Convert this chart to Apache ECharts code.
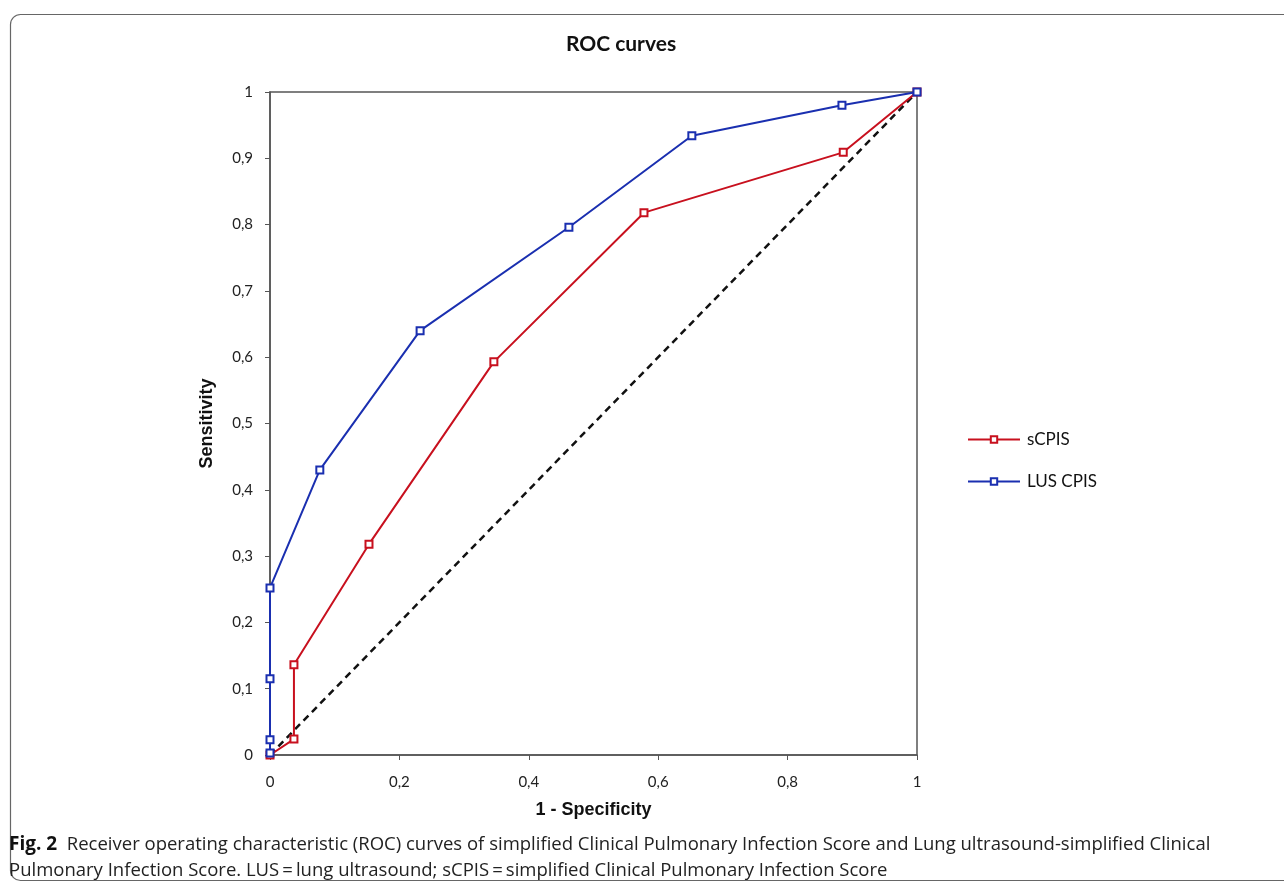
<!DOCTYPE html>
<html>
<head>
<meta charset="utf-8">
<script src="https://cdn.jsdelivr.net/npm/echarts@6/dist/echarts.min.js"></script>
<style>
  html, body { margin: 0; padding: 0; background: #fff; }
  #chart { width: 1284px; height: 889px; }
</style>
</head>
<body>
<div id="chart"></div>
<script>
// ROC points: [1 - specificity, sensitivity]
const sCpisFpr = [0, 0.037, 0.037, 0.153, 0.346, 0.578, 0.886, 1];
const sCpisTpr = [0, 0.024, 0.136, 0.318, 0.593, 0.818, 0.909, 1];
const lusFpr = [0, 0, 0, 0, 0.077, 0.232, 0.462, 0.652, 0.884, 1];
const lusTpr = [0.003, 0.023, 0.115, 0.252, 0.43, 0.64, 0.796, 0.934, 0.98, 1];
const refLine = [[0, 0], [1, 1]];

const zip = (xs, ys) => xs.map((x, i) => [x, ys[i]]);
const comma = (v) => String(+v.toFixed(1)).replace(".", ",");

const chart = echarts.init(document.getElementById("chart"), null, { renderer: "canvas" });

const axisColor = "#555";
const axisLabel = { color: "#222", fontFamily: "Lato", fontSize: 15, formatter: comma };
const markerStyle = (c) => ({ color: "#fff", borderColor: c, borderWidth: 2 });
const nameStyle = { fontFamily: "Liberation Sans", fontSize: 18, fontWeight: "bold", color: "#111" };

// second pair of axes only draws the inner half of the crossing ticks
const innerX = {
  type: "value", min: 0, max: 1, interval: 0.2,
  axisLine: { show: false }, axisLabel: { show: false }, splitLine: { show: false },
  axisTick: { show: true, inside: true, length: 5, lineStyle: { color: axisColor } }
};
const innerY = { ...innerX, interval: 0.1 };

chart.setOption({
  animation: false,
  backgroundColor: "#fff",
  title: {
    text: "ROC curves",
    left: 616, top: 29, textAlign: "center",
    textStyle: { fontFamily: "Lato", fontSize: 21, fontWeight: "bold", color: "#111" }
  },
  grid: {
    left: 270, right: 367, top: 92, bottom: 134,
    show: true, borderColor: axisColor, borderWidth: 1.5
  },
  xAxis: [{
    type: "value", min: 0, max: 1, interval: 0.2,
    name: "1 - Specificity", nameLocation: "middle", nameGap: 46, nameTextStyle: nameStyle,
    axisLine: { show: true, lineStyle: { color: axisColor, width: 1.5 } },
    axisTick: { show: true, length: 5, lineStyle: { color: axisColor } },
    axisLabel: { ...axisLabel, margin: 20 },
    splitLine: { show: false }
  }, innerX],
  yAxis: [{
    type: "value", min: 0, max: 1, interval: 0.1,
    name: "Sensitivity", nameLocation: "middle", nameGap: 54, nameRotate: 90, nameTextStyle: nameStyle,
    axisLine: { show: true, lineStyle: { color: axisColor, width: 1.5 } },
    axisTick: { show: true, length: 5, lineStyle: { color: axisColor } },
    axisLabel: { ...axisLabel, margin: 17 },
    splitLine: { show: false }
  }, innerY],
  legend: {
    orient: "vertical", left: 962, top: 426, itemGap: 25,
    itemWidth: 52, itemHeight: 8,
    textStyle: { fontFamily: "Lato", fontSize: 17, color: "#111", padding: [0, 0, 0, 2] },
    data: ["sCPIS", "LUS CPIS"]
  },
  series: [
    {
      name: "reference", type: "line", data: refLine, symbol: "none",
      lineStyle: { color: "#111", width: 2.5, type: [7, 5] }, z: 1
    },
    {
      name: "sCPIS", type: "line", data: zip(sCpisFpr, sCpisTpr),
      symbol: "rect", symbolSize: 7, color: "#c8101e",
      lineStyle: { color: "#c8101e", width: 2 },
      itemStyle: markerStyle("#c8101e"), z: 2
    },
    {
      name: "LUS CPIS", type: "line", data: zip(lusFpr, lusTpr),
      symbol: "rect", symbolSize: 7, color: "#1a2fb0",
      lineStyle: { color: "#1a2fb0", width: 2 },
      itemStyle: markerStyle("#1a2fb0"), z: 3
    }
  ],
  graphic: [
    {
      type: "rect", left: 8, top: 12, z: -1, silent: true,
      shape: { width: 1300, height: 866, r: 10 },
      style: { fill: "none", stroke: "#666", lineWidth: 1.2 }
    },
    {
      type: "text", left: 9, top: 832,
      style: {
        text: "{b|Fig. 2}  Receiver operating characteristic (ROC) curves of simplified Clinical Pulmonary Infection Score and Lung ultrasound-simplified Clinical\nPulmonary Infection Score. LUS\u2009=\u2009lung ultrasound; sCPIS\u2009=\u2009simplified Clinical Pulmonary Infection Score",
        fontFamily: "Open Sans", fontSize: 18.5, lineHeight: 26, fill: "#222",
        rich: { b: { fontFamily: "Open Sans", fontSize: 19, fontWeight: "bold", fill: "#111" } }
      }
    }
  ]
});
</script>
</body>
</html>
